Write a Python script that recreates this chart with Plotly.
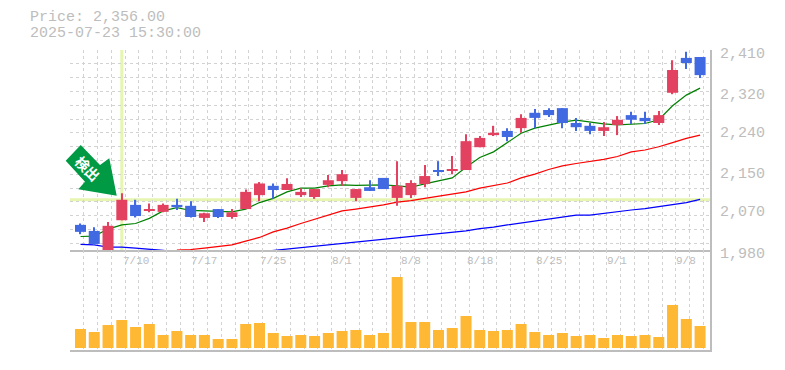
import plotly.graph_objects as go

# --- data ---
opens = [2034,2021,1980,2044,2077,2064,2062,2077,2075,2049,2068,2051,2068,2098,2118,2109,2098,2094,2120,2128,2092,2115,2135,2092,2098,2122,2152,2150,2152,2201,2227,2236,2242,2275,2281,2285,2253,2247,2236,2249,2270,2264,2253,2318,2393,2395]
closes = [2019,1993,2032,2088,2053,2068,2077,2072,2051,2059,2051,2061,2105,2123,2109,2122,2105,2111,2130,2143,2111,2107,2111,2118,2124,2139,2148,2154,2214,2221,2232,2223,2264,2264,2270,2253,2244,2236,2244,2260,2260,2257,2270,2367,2382,2356]
highs = [2037,2029,2040,2102,2088,2080,2080,2090,2085,2060,2068,2068,2110,2126,2123,2134,2113,2111,2141,2152,2111,2130,2135,2171,2130,2163,2171,2182,2229,2225,2247,2242,2272,2283,2285,2285,2264,2253,2255,2268,2277,2277,2279,2388,2406,2395]
lows = [2014,1991,1980,2044,2050,2061,2061,2066,2050,2040,2049,2047,2068,2085,2090,2109,2094,2090,2115,2118,2085,2107,2111,2075,2092,2115,2139,2143,2152,2201,2225,2214,2232,2242,2266,2242,2236,2229,2225,2227,2251,2251,2249,2315,2369,2350]
ma_short = [2009,2010,2025,2034,2037,2048,2064,2071,2065,2064,2064,2062,2068,2082,2091,2105,2113,2113,2118,2120,2119,2120,2120,2118,2115,2122,2129,2135,2158,2179,2191,2211,2231,2242,2249,2255,2259,2255,2251,2249,2250,2252,2260,2290,2313,2328]
ma_mid = [None,None,None,None,None,None,None,1980,1981,1984,1987,1991,1999,2007,2019,2027,2037,2046,2055,2064,2068,2072,2077,2083,2086,2091,2096,2100,2105,2113,2118,2124,2135,2143,2153,2161,2166,2170,2175,2181,2191,2195,2202,2211,2220,2227]
ma_long = [1992,1991,1986,1986,1984,1981,1979,1977,1975,1974,1973,1973,1974,1976,1979,1983,1986,1989,1991,1994,1997,2000,2003,2006,2010,2012,2015,2018,2021,2026,2029,2034,2038,2042,2047,2051,2055,2055,2059,2062,2066,2069,2073,2077,2082,2089]
volume = [190000,160000,230000,280000,210000,240000,130000,170000,130000,130000,90000,90000,240000,250000,150000,120000,130000,120000,150000,170000,180000,130000,150000,710000,260000,260000,180000,200000,320000,180000,170000,180000,240000,160000,130000,150000,120000,130000,100000,130000,120000,130000,110000,430000,290000,220000]
date_ticks = [4,9,14,19,24,29,34,39,44]
date_labels = ["7/10","7/17","7/25","8/1","8/8","8/18","8/25","9/1","9/8"]
price_ticks = [2410,2320,2240,2150,2070,1980]
title_price = "Price: 2,356.00"
title_time = "2025-07-23 15:30:00"
signal_index = 3
signal_label = "検出"

x = list(range(len(closes)))
W, H = 785, 370
L, R, T, B = 70, 710, 50, 350
GREY = "#bdbdbd"
GRID = "#d2d2d2"
MONO = "Liberation Mono"
UP, DOWN = "#e2425f", "#4169e1"
px = lambda v: (v - L) / (R - L)
py = lambda v: (B - v) / (B - T)

colors = [UP if c >= o else DOWN for o, c in zip(opens, closes)]

fig = go.Figure()
# bars and lines share one SVG layer order: plotly draws bars below scatter, so the
# moving averages go on a lower overlay axis and the candles on the upper one
for vals, col in ((ma_long, "#0000ff"), (ma_mid, "#ff0000"), (ma_short, "#008000")):
    fig.add_trace(go.Scatter(x=x, y=vals, mode="lines", line=dict(color=col, width=1.2),
                             xaxis="x", yaxis="y", showlegend=False))
fig.add_trace(go.Bar(x=x, base=lows, y=[h - l for h, l in zip(highs, lows)], width=0.085,
                     marker=dict(color=colors, line_width=0), xaxis="x3", yaxis="y3", showlegend=False))
fig.add_trace(go.Bar(x=x, base=[min(o, c) for o, c in zip(opens, closes)],
                     y=[abs(o - c) for o, c in zip(opens, closes)], width=0.8,
                     marker=dict(color=colors, line_width=0), xaxis="x3", yaxis="y3", showlegend=False))
fig.add_trace(go.Bar(x=x, y=volume, width=0.8, marker=dict(color="#ffb833", line_width=0),
                     xaxis="x2", yaxis="y2", showlegend=False))

xr = [-0.7625, 45.72]
xcommon = dict(range=xr, tickmode="linear", tick0=-0.7625, dtick=1, showgrid=True, gridcolor=GRID,
               griddash="3px,3px", gridwidth=1, zeroline=False, showticklabels=False, ticks="",
               showline=True, linecolor=GREY, linewidth=1.5, domain=[0, 1])

annotations = [
    dict(text=title_price, xref="paper", yref="paper", x=px(28), y=py(18), xanchor="left", yanchor="middle",
         showarrow=False, font=dict(family=MONO, size=15, color=GREY)),
    dict(text=title_time, xref="paper", yref="paper", x=px(28), y=py(33), xanchor="left", yanchor="middle",
         showarrow=False, font=dict(family=MONO, size=15, color=GREY)),
    dict(text=signal_label, xref="paper", yref="paper", x=px(87.5), y=py(168), textangle=45, showarrow=False,
         xanchor="center", yanchor="middle",
         font=dict(family="Noto Sans CJK JP", size=14, color="#ffffff", weight="bold")),
]
for v in price_ticks:
    annotations.append(dict(text=f"{v:,}", xref="paper", yref="y", x=1, y=v, xshift=8, yshift=-4,
                            xanchor="left", yanchor="middle", showarrow=False,
                            font=dict(family=MONO, size=15, color=GREY)))
for i, t in zip(date_ticks, date_labels):
    annotations.append(dict(text=t, xref="x", yref="paper", x=i, y=py(261), xanchor="center", yanchor="middle",
                            showarrow=False, font=dict(family=MONO, size=11, color=GREY)))

arrow_pts = [(80.7,145),(100,165),(109.3,158.3),(116.7,195.7),(78.3,189.3),(85,181.7),(65.7,160.7)]
arrow_path = "M " + " L ".join(f"{px(a):.4f},{py(b):.4f}" for a, b in arrow_pts) + " Z"
shapes = [
    dict(type="line", xref="x", yref="y domain", x0=signal_index, x1=signal_index, y0=0, y1=1,
         line=dict(color="#e6f5b0", width=3), layer="below"),
    dict(type="line", xref="x domain", yref="y", x0=0, x1=1, y0=closes[signal_index], y1=closes[signal_index],
         line=dict(color="#e6f5b0", width=3), layer="below"),
    dict(type="path", xref="paper", yref="paper", path=arrow_path, fillcolor="#009944", line_width=0, layer="above"),
]

fig.update_layout(
    width=W, height=H, autosize=False, paper_bgcolor="#ffffff", plot_bgcolor="#ffffff",
    margin=dict(l=L, r=W - R, t=T, b=H - B, pad=0), showlegend=False, dragmode=False, barmode="overlay",
    xaxis=dict(anchor="y", **xcommon),
    xaxis2=dict(anchor="y2", **xcommon),
    xaxis3=dict(range=xr, overlaying="x", anchor="y3", visible=False),
    yaxis=dict(domain=[py(250), 1], range=[1980, 2410], side="right", anchor="x", tickmode="linear", tick0=2410,
               dtick=29.67, showgrid=True, gridcolor=GRID, griddash="3px,3px", gridwidth=1, zeroline=False,
               showticklabels=False, ticks="", showline=True, linecolor=GREY, linewidth=1.5),
    yaxis2=dict(domain=[0, py(250)], range=[-20000, 980000], side="right", anchor="x2", showgrid=False,
                zeroline=False, showticklabels=False, ticks="", showline=True, linecolor=GREY, linewidth=1.5),
    yaxis3=dict(range=[1980, 2410], overlaying="y", anchor="x3", visible=False),
    annotations=annotations, shapes=shapes,
)
fig.write_html("out.html", config=dict(displayModeBar=False),
               post_script="document.body.style.margin='0';document.documentElement.style.overflow='hidden';")
